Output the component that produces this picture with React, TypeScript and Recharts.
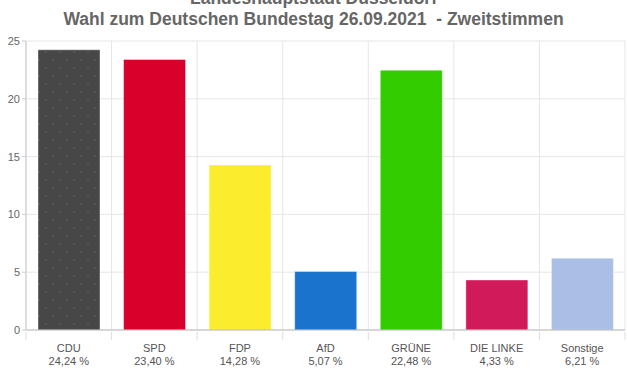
import React from "react";
import { BarChart, Bar, XAxis, YAxis, CartesianGrid, Cell } from "recharts";

const parties = ["CDU", "SPD", "FDP", "AfD", "GRÜNE", "DIE LINKE", "Sonstige"];
const shares = [24.24, 23.4, 14.28, 5.07, 22.48, 4.33, 6.21];
const shareLabels = ["24,24 %", "23,40 %", "14,28 %", "5,07 %", "22,48 %", "4,33 %", "6,21 %"];
const colors = ["url(#cduDots)", "#d9002b", "#fcec2e", "#1a73cc", "#33cc00", "#d11a5a", "#abbfe6"];
const yTicks = [0, 5, 10, 15, 20, 25];

const data = parties.map((p, i) => ({ name: p, value: shares[i], label: shareLabels[i] }));

const W = 627;
const H = 376;
const M = { top: 41, right: 2, bottom: 0, left: 0 };
const X_H = 46;
const Y_W = 26;

const PartyTick = (props: any) => {
    const { x, y, payload, index } = props;
    const step = (W - M.left - M.right - Y_W) / parties.length;
    const bx = x + step / 2;
    return (
        <g>
            <line x1={bx} y1={y - 6} x2={bx} y2={y + 2} stroke="#ddd" />
            {index === 0 && <line x1={x - step / 2} y1={y - 6} x2={x - step / 2} y2={y + 2} stroke="#ddd" />}
            <text x={x} y={y + 14} textAnchor="middle" fontSize={11} fill="#555" fontFamily="Liberation Sans, Arial, sans-serif">
                {payload.value}
            </text>
            <text x={x} y={y + 27} textAnchor="middle" fontSize={11} fill="#555" fontFamily="Liberation Sans, Arial, sans-serif">
                {shareLabels[index]}
            </text>
        </g>
    );
};

export default function App() {
    return (
        <div style={{ position: "absolute", left: 0, top: 0, width: W, height: H, background: "#fff", overflow: "hidden" }}>
            <div
                style={{
                    position: "absolute",
                    left: 0,
                    top: -12,
                    width: W,
                    textAlign: "center",
                    fontFamily: "Liberation Sans, Arial, sans-serif",
                    fontWeight: "bold",
                    fontSize: 17.5,
                    lineHeight: "21px",
                    color: "#666",
                }}
            >
                <div>Landeshauptstadt Düsseldorf</div>
                <div>Wahl zum Deutschen Bundestag 26.09.2021&nbsp; - Zweitstimmen</div>
            </div>
            <BarChart width={W} height={H} data={data} margin={M} style={{ position: "absolute", left: 0, top: 0 }}>
                <defs>
                    <pattern id="cduDots" width="14" height="16" patternUnits="userSpaceOnUse">
                        <rect width="14" height="16" fill="#474747" />
                        <circle cx="4" cy="4" r="0.6" fill="#7a7a7a" />
                        <circle cx="11" cy="12" r="0.6" fill="#7a7a7a" />
                    </pattern>
                </defs>
                <CartesianGrid
                    stroke="#e6e6e6"
                    verticalCoordinatesGenerator={({ offset }: any) =>
                        parties.map((_, i) => offset.left + (i + 1) * (offset.width / parties.length))
                    }
                />
                <XAxis
                    dataKey="name"
                    interval={0}
                    height={X_H}
                    axisLine={{ stroke: "#bbb" }}
                    tickLine={false}
                    tick={<PartyTick />}
                />
                <YAxis
                    width={Y_W}
                    domain={[0, 25]}
                    ticks={yTicks}
                    axisLine={{ stroke: "#ddd", strokeWidth: 2 }}
                    tickLine={{ stroke: "#ccc" }}
                    tickSize={4}
                    tick={{ fontSize: 11, fill: "#666", fontFamily: "Liberation Sans, Arial, sans-serif" }}
                />
                <Bar dataKey="value" barSize={62} isAnimationActive={false} stroke="#fff" strokeOpacity={0.4}>
                    {data.map((d, i) => (
                        <Cell key={d.name} fill={colors[i]} />
                    ))}
                </Bar>
            </BarChart>
        </div>
    );
}
